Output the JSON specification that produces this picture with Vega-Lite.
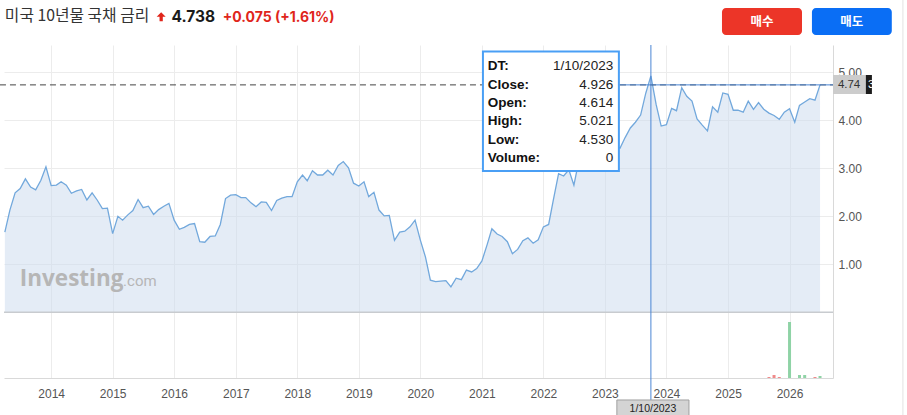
{
  "$schema": "https://vega.github.io/schema/vega-lite/v6.json",
  "width": 829,
  "height": 333,
  "autosize": {"type": "none"},
  "padding": {"left": 4, "top": 45, "right": 74, "bottom": 37},
  "background": "white",
  "config": {
    "view": {"stroke": null},
    "font": "Liberation Sans",
    "axisX": {
      "format": "%Y",
      "tickCount": {"interval": "year", "step": 1},
      "grid": true,
      "gridColor": "#ececec",
      "ticks": false,
      "domainColor": "#d9d9d9",
      "labelColor": "#555555",
      "labelFontSize": 12,
      "labelPadding": 10,
      "labelFlush": false
    },
    "axisY": {
      "grid": true,
      "gridColor": "#ececec",
      "ticks": false,
      "domainColor": "#d9d9d9",
      "labelColor": "#555555",
      "labelFontSize": 12,
      "labelPadding": 5
    }
  },
  "datasets": {
    "bond": [
      {"date": "2013-04-01", "close": 1.67}, {"date": "2013-05-01", "close": 2.13}, {"date": "2013-06-01", "close": 2.49},
      {"date": "2013-07-01", "close": 2.58}, {"date": "2013-08-01", "close": 2.78}, {"date": "2013-09-01", "close": 2.61},
      {"date": "2013-10-01", "close": 2.55}, {"date": "2013-11-01", "close": 2.75}, {"date": "2013-12-01", "close": 3.03},
      {"date": "2014-01-01", "close": 2.64}, {"date": "2014-02-01", "close": 2.65}, {"date": "2014-03-01", "close": 2.72},
      {"date": "2014-04-01", "close": 2.65}, {"date": "2014-05-01", "close": 2.48}, {"date": "2014-06-01", "close": 2.53},
      {"date": "2014-07-01", "close": 2.56}, {"date": "2014-08-01", "close": 2.34}, {"date": "2014-09-01", "close": 2.49},
      {"date": "2014-10-01", "close": 2.34}, {"date": "2014-11-01", "close": 2.16}, {"date": "2014-12-01", "close": 2.17},
      {"date": "2015-01-01", "close": 1.64}, {"date": "2015-02-01", "close": 2.0}, {"date": "2015-03-01", "close": 1.92},
      {"date": "2015-04-01", "close": 2.03}, {"date": "2015-05-01", "close": 2.12}, {"date": "2015-06-01", "close": 2.35},
      {"date": "2015-07-01", "close": 2.18}, {"date": "2015-08-01", "close": 2.21}, {"date": "2015-09-01", "close": 2.04},
      {"date": "2015-10-01", "close": 2.14}, {"date": "2015-11-01", "close": 2.21}, {"date": "2015-12-01", "close": 2.27},
      {"date": "2016-01-01", "close": 1.92}, {"date": "2016-02-01", "close": 1.73}, {"date": "2016-03-01", "close": 1.77},
      {"date": "2016-04-01", "close": 1.83}, {"date": "2016-05-01", "close": 1.85}, {"date": "2016-06-01", "close": 1.47},
      {"date": "2016-07-01", "close": 1.46}, {"date": "2016-08-01", "close": 1.58}, {"date": "2016-09-01", "close": 1.59},
      {"date": "2016-10-01", "close": 1.83}, {"date": "2016-11-01", "close": 2.37}, {"date": "2016-12-01", "close": 2.44},
      {"date": "2017-01-01", "close": 2.45}, {"date": "2017-02-01", "close": 2.39}, {"date": "2017-03-01", "close": 2.39},
      {"date": "2017-04-01", "close": 2.28}, {"date": "2017-05-01", "close": 2.2}, {"date": "2017-06-01", "close": 2.3},
      {"date": "2017-07-01", "close": 2.29}, {"date": "2017-08-01", "close": 2.12}, {"date": "2017-09-01", "close": 2.33},
      {"date": "2017-10-01", "close": 2.38}, {"date": "2017-11-01", "close": 2.41}, {"date": "2017-12-01", "close": 2.41},
      {"date": "2018-01-01", "close": 2.72}, {"date": "2018-02-01", "close": 2.86}, {"date": "2018-03-01", "close": 2.74},
      {"date": "2018-04-01", "close": 2.95}, {"date": "2018-05-01", "close": 2.86}, {"date": "2018-06-01", "close": 2.86},
      {"date": "2018-07-01", "close": 2.96}, {"date": "2018-08-01", "close": 2.86}, {"date": "2018-09-01", "close": 3.06},
      {"date": "2018-10-01", "close": 3.14}, {"date": "2018-11-01", "close": 3.01}, {"date": "2018-12-01", "close": 2.69},
      {"date": "2019-01-01", "close": 2.63}, {"date": "2019-02-01", "close": 2.72}, {"date": "2019-03-01", "close": 2.41},
      {"date": "2019-04-01", "close": 2.5}, {"date": "2019-05-01", "close": 2.13}, {"date": "2019-06-01", "close": 2.01},
      {"date": "2019-07-01", "close": 2.02}, {"date": "2019-08-01", "close": 1.5}, {"date": "2019-09-01", "close": 1.67},
      {"date": "2019-10-01", "close": 1.69}, {"date": "2019-11-01", "close": 1.78}, {"date": "2019-12-01", "close": 1.92},
      {"date": "2020-01-01", "close": 1.51}, {"date": "2020-02-01", "close": 1.15}, {"date": "2020-03-01", "close": 0.67},
      {"date": "2020-04-01", "close": 0.64}, {"date": "2020-05-01", "close": 0.65}, {"date": "2020-06-01", "close": 0.66},
      {"date": "2020-07-01", "close": 0.53}, {"date": "2020-08-01", "close": 0.71}, {"date": "2020-09-01", "close": 0.68},
      {"date": "2020-10-01", "close": 0.88}, {"date": "2020-11-01", "close": 0.84}, {"date": "2020-12-01", "close": 0.91},
      {"date": "2021-01-01", "close": 1.07}, {"date": "2021-02-01", "close": 1.41}, {"date": "2021-03-01", "close": 1.74},
      {"date": "2021-04-01", "close": 1.63}, {"date": "2021-05-01", "close": 1.58}, {"date": "2021-06-01", "close": 1.47},
      {"date": "2021-07-01", "close": 1.22}, {"date": "2021-08-01", "close": 1.31}, {"date": "2021-09-01", "close": 1.49},
      {"date": "2021-10-01", "close": 1.55}, {"date": "2021-11-01", "close": 1.44}, {"date": "2021-12-01", "close": 1.51},
      {"date": "2022-01-01", "close": 1.78}, {"date": "2022-02-01", "close": 1.83}, {"date": "2022-03-01", "close": 2.34},
      {"date": "2022-04-01", "close": 2.89}, {"date": "2022-05-01", "close": 2.84}, {"date": "2022-06-01", "close": 2.97},
      {"date": "2022-07-01", "close": 2.65}, {"date": "2022-08-01", "close": 3.19}, {"date": "2022-09-01", "close": 3.83},
      {"date": "2022-10-01", "close": 4.05}, {"date": "2022-11-01", "close": 3.61}, {"date": "2022-12-01", "close": 3.87},
      {"date": "2023-01-01", "close": 3.51}, {"date": "2023-02-01", "close": 3.92}, {"date": "2023-03-01", "close": 3.47},
      {"date": "2023-04-01", "close": 3.42}, {"date": "2023-05-01", "close": 3.64}, {"date": "2023-06-01", "close": 3.84},
      {"date": "2023-07-01", "close": 3.96}, {"date": "2023-08-01", "close": 4.11}, {"date": "2023-09-01", "close": 4.57},
      {"date": "2023-10-01", "close": 4.926}, {"date": "2023-11-01", "close": 4.33}, {"date": "2023-12-01", "close": 3.88},
      {"date": "2024-01-01", "close": 3.91}, {"date": "2024-02-01", "close": 4.25}, {"date": "2024-03-01", "close": 4.2},
      {"date": "2024-04-01", "close": 4.68}, {"date": "2024-05-01", "close": 4.5}, {"date": "2024-06-01", "close": 4.4},
      {"date": "2024-07-01", "close": 4.03}, {"date": "2024-08-01", "close": 3.9}, {"date": "2024-09-01", "close": 3.78},
      {"date": "2024-10-01", "close": 4.28}, {"date": "2024-11-01", "close": 4.17}, {"date": "2024-12-01", "close": 4.57},
      {"date": "2025-01-01", "close": 4.54}, {"date": "2025-02-01", "close": 4.21}, {"date": "2025-03-01", "close": 4.21},
      {"date": "2025-04-01", "close": 4.17}, {"date": "2025-05-01", "close": 4.4}, {"date": "2025-06-01", "close": 4.23},
      {"date": "2025-07-01", "close": 4.37}, {"date": "2025-08-01", "close": 4.23}, {"date": "2025-09-01", "close": 4.15},
      {"date": "2025-10-01", "close": 4.1}, {"date": "2025-11-01", "close": 4.02}, {"date": "2025-12-01", "close": 4.17},
      {"date": "2026-01-01", "close": 4.24}, {"date": "2026-02-01", "close": 3.96}, {"date": "2026-03-01", "close": 4.31},
      {"date": "2026-04-01", "close": 4.38}, {"date": "2026-05-01", "close": 4.45}, {"date": "2026-06-01", "close": 4.42},
      {"date": "2026-07-01", "close": 4.738}
    ],
    "volume": [
      {"date": "2025-09-01", "vol": 1, "dir": "down"},
      {"date": "2025-10-01", "vol": 3, "dir": "down"},
      {"date": "2025-11-01", "vol": 1, "dir": "down"},
      {"date": "2026-01-01", "vol": 56, "dir": "up"},
      {"date": "2026-03-01", "vol": 3, "dir": "up"},
      {"date": "2026-04-01", "vol": 3, "dir": "up"},
      {"date": "2026-06-01", "vol": 1, "dir": "down"},
      {"date": "2026-07-01", "vol": 2, "dir": "up"}
    ],
    "hover": [
      {"date": "2023-10-01", "close": 4.926, "open": 4.614, "high": 5.021, "low": 4.53, "volume": 0}
    ],
    "one": [{}]
  },
  "resolve": {"scale": {"y": "independent"}},
  "layer": [
    {
      "layer": [
        {
          "data": {"name": "bond"},
          "mark": {"type": "area", "color": "#cddcee", "opacity": 0.55},
          "encoding": {
            "x": {
              "field": "date",
              "type": "temporal",
              "title": null,
              "scale": {"domain": [{"year": 2013, "month": 3, "date": 27}, {"year": 2026, "month": 9, "date": 16}], "nice": false, "padding": 0}
            },
            "y": {
              "field": "close",
              "type": "quantitative",
              "title": null,
              "scale": {"domain": [-1.369, 5.569], "nice": false, "zero": false, "padding": 0},
              "axis": {"orient": "right", "values": [1, 2, 3, 4, 5], "format": ".2f"}
            },
            "y2": {"datum": 0}
          }
        },
        {
          "data": {"name": "bond"},
          "mark": {"type": "line", "color": "#72a8dc", "strokeWidth": 1.3},
          "encoding": {
            "x": {"field": "date", "type": "temporal"},
            "y": {"field": "close", "type": "quantitative"}
          }
        },
        {
          "data": {"name": "one"},
          "mark": {"type": "rule", "color": "#c8cbcf", "strokeWidth": 1.5},
          "encoding": {
            "x": {"datum": {"year": 2013, "month": 3, "date": 27}},
            "x2": {"datum": {"year": 2026, "month": 9, "date": 16}},
            "y": {"datum": 0}
          }
        },
        {
          "data": {"name": "one"},
          "mark": {"type": "rule", "color": "#444444", "strokeWidth": 1, "strokeDash": [6, 4]},
          "encoding": {
            "x": {"datum": {"year": 2013, "month": 3, "date": 3}},
            "x2": {"datum": {"year": 2026, "month": 9, "date": 16}},
            "y": {"datum": 4.738}
          }
        },
        {
          "data": {"name": "one"},
          "mark": {"type": "rule", "color": "#4a86d4", "strokeWidth": 1},
          "encoding": {
            "x": {"datum": {"year": 2023, "month": 3, "date": 25}},
            "x2": {"datum": {"year": 2026, "month": 9, "date": 16}},
            "y": {"datum": 4.738}
          }
        },
        {
          "data": {"name": "hover"},
          "mark": {"type": "rule", "color": "#4a86d4", "strokeWidth": 1},
          "encoding": {
            "x": {"field": "date", "type": "temporal"},
            "y": {"datum": 5.569},
            "y2": {"datum": -1.827}
          }
        },
        {
          "data": {"name": "one"},
          "mark": {"type": "rect", "fill": "white", "stroke": "#4a9ff5", "strokeWidth": 2},
          "encoding": {
            "x": {"datum": {"year": 2021, "month": 1, "date": 7}},
            "x2": {"datum": {"year": 2023, "month": 3, "date": 25}},
            "y": {"datum": 5.433},
            "y2": {"datum": 2.944}
          }
        },
        {
          "data": {"name": "one"},
          "mark": {
            "type": "text",
            "text": ["DT:", "Close:", "Open:", "High:", "Low:", "Volume:"],
            "align": "left",
            "baseline": "top",
            "lineHeight": 18.32,
            "font": "Liberation Sans",
            "fontSize": 13.5,
            "fontWeight": "bold",
            "color": "#111111"
          },
          "encoding": {
            "x": {"datum": {"year": 2021, "month": 2, "date": 4}},
            "y": {"datum": 5.269}
          }
        },
        {
          "data": {"name": "one"},
          "mark": {
            "type": "text",
            "text": ["1/10/2023", "4.926", "4.614", "5.021", "4.530", "0"],
            "align": "right",
            "baseline": "top",
            "lineHeight": 18.32,
            "font": "Liberation Sans",
            "fontSize": 13.5,
            "color": "#222222"
          },
          "encoding": {
            "x": {"datum": {"year": 2023, "month": 2, "date": 19}},
            "y": {"datum": 5.269}
          }
        },
        {
          "data": {"name": "one"},
          "mark": {"type": "rect", "fill": "#cccccc"},
          "encoding": {
            "x": {"datum": {"year": 2026, "month": 9, "date": 16}},
            "x2": {"datum": {"year": 2027, "month": 3, "date": 30}},
            "y": {"datum": 4.944},
            "y2": {"datum": 4.548}
          }
        },
        {
          "data": {"name": "one"},
          "mark": {"type": "rect", "fill": "#1c1c1c"},
          "encoding": {
            "x": {"datum": {"year": 2027, "month": 3, "date": 30}},
            "x2": {"datum": {"year": 2027, "month": 5, "date": 5}},
            "y": {"datum": 4.944},
            "y2": {"datum": 4.548}
          }
        },
        {
          "data": {"name": "one"},
          "mark": {"type": "text", "text": "4.74", "align": "left", "baseline": "middle", "fontSize": 11.5, "color": "#333333"},
          "encoding": {
            "x": {"datum": {"year": 2026, "month": 10, "date": 15}},
            "y": {"datum": 4.73}
          }
        },
        {
          "data": {"name": "one"},
          "mark": {"type": "text", "text": "3", "align": "left", "baseline": "middle", "fontSize": 11.5, "color": "white"},
          "encoding": {
            "x": {"datum": {"year": 2027, "month": 4, "date": 12}},
            "y": {"datum": 4.73}
          }
        },
        {
          "data": {"name": "one"},
          "mark": {"type": "rect", "fill": "#d4d4d4", "stroke": "#a0a0a0", "strokeWidth": 1},
          "encoding": {
            "x": {"datum": {"year": 2023, "month": 3, "date": 13}},
            "x2": {"datum": {"year": 2024, "month": 5, "date": 14}},
            "y": {"datum": -1.827},
            "y2": {"datum": -2.16}
          }
        },
        {
          "data": {"name": "one"},
          "mark": {"type": "text", "text": "1/10/2023", "align": "center", "baseline": "middle", "fontSize": 10.5, "color": "#222222"},
          "encoding": {
            "x": {"datum": {"year": 2023, "month": 10, "date": 13}},
            "y": {"datum": -2.015}
          }
        },
        {
          "data": {"name": "one"},
          "mark": {"type": "text", "text": "Investing", "align": "left", "baseline": "alphabetic", "font": "Open Sans", "fontSize": 22.5, "fontWeight": "bold", "color": "#b6b6b6"},
          "encoding": {
            "x": {"datum": {"year": 2013, "month": 6, "date": 29}},
            "y": {"datum": 0.548}
          }
        },
        {
          "data": {"name": "one"},
          "mark": {"type": "text", "text": ".com", "align": "left", "baseline": "alphabetic", "font": "Roboto", "fontSize": 15, "color": "#b6b6b6"},
          "encoding": {
            "x": {"datum": {"year": 2015, "month": 3, "date": 4}},
            "y": {"datum": 0.548}
          }
        },
        {
          "data": {"name": "one"},
          "mark": {"type": "text", "text": "미국 10년물 국채 금리", "align": "left", "baseline": "alphabetic", "font": "Noto Sans CJK KR", "fontSize": 15.8, "color": "#333333"},
          "encoding": {
            "x": {"datum": {"year": 2013, "month": 4, "date": 1}},
            "y": {"datum": 6.069}
          }
        },
        {
          "data": {"name": "one"},
          "mark": {"type": "point", "shape": "M0,-1L1,0L0.36,0L0.36,1L-0.36,1L-0.36,0L-1,0Z", "filled": true, "color": "#e0251b", "opacity": 1, "size": 81},
          "encoding": {
            "x": {"datum": {"year": 2015, "month": 10, "date": 16}},
            "y": {"datum": 6.158}
          }
        },
        {
          "data": {"name": "one"},
          "mark": {"type": "text", "text": "4.738", "align": "left", "baseline": "alphabetic", "font": "Inter", "fontSize": 15.5, "fontWeight": "bold", "color": "#1a1a1a"},
          "encoding": {
            "x": {"datum": {"year": 2015, "month": 12, "date": 17}},
            "y": {"datum": 6.048}
          }
        },
        {
          "data": {"name": "one"},
          "mark": {"type": "text", "text": "+0.075 (+1.61%)", "align": "left", "baseline": "alphabetic", "font": "Inter", "fontSize": 14, "fontWeight": "bold", "color": "#e0251b"},
          "encoding": {
            "x": {"datum": {"year": 2016, "month": 10, "date": 15}},
            "y": {"datum": 6.058}
          }
        },
        {
          "data": {"name": "one"},
          "mark": {"type": "rect", "fill": "#ec3528", "cornerRadius": 4},
          "encoding": {
            "x": {"datum": {"year": 2024, "month": 11, "date": 26}},
            "x2": {"datum": {"year": 2026, "month": 3, "date": 16}},
            "y": {"datum": 6.34},
            "y2": {"datum": 5.777}
          }
        },
        {
          "data": {"name": "one"},
          "mark": {"type": "rect", "fill": "#0a6ef5", "cornerRadius": 4},
          "encoding": {
            "x": {"datum": {"year": 2026, "month": 5, "date": 14}},
            "x2": {"datum": {"year": 2027, "month": 8, "date": 31}},
            "y": {"datum": 6.34},
            "y2": {"datum": 5.777}
          }
        },
        {
          "data": {"name": "one"},
          "mark": {"type": "text", "text": "매수", "align": "center", "baseline": "middle", "font": "Noto Sans CJK KR", "fontSize": 12.5, "fontWeight": "bold", "color": "white"},
          "encoding": {
            "x": {"datum": {"year": 2025, "month": 7, "date": 21}},
            "y": {"datum": 6.048}
          }
        },
        {
          "data": {"name": "one"},
          "mark": {"type": "text", "text": "매도", "align": "center", "baseline": "middle", "font": "Noto Sans CJK KR", "fontSize": 12.5, "fontWeight": "bold", "color": "white"},
          "encoding": {
            "x": {"datum": {"year": 2027, "month": 1, "date": 6}},
            "y": {"datum": 6.048}
          }
        },
        {
          "data": {"name": "one"},
          "mark": {"type": "rule", "color": "#e2e2e2", "strokeWidth": 1},
          "encoding": {
            "x": {"datum": {"year": 2027, "month": 11, "date": 5}},
            "y": {"datum": 6.506},
            "y2": {"datum": -2.14}
          }
        }
      ]
    },
    {
      "data": {"name": "volume"},
      "mark": {"type": "bar", "width": 3},
      "encoding": {
        "x": {"field": "date", "type": "temporal"},
        "y": {"field": "vol", "type": "quantitative", "scale": {"domain": [0, 333], "nice": false, "padding": 0}, "axis": null},
        "color": {
          "field": "dir",
          "type": "nominal",
          "scale": {"domain": ["up", "down"], "range": ["#8fd3a6", "#f08a8a"]},
          "legend": null
        }
      }
    }
  ]
}
